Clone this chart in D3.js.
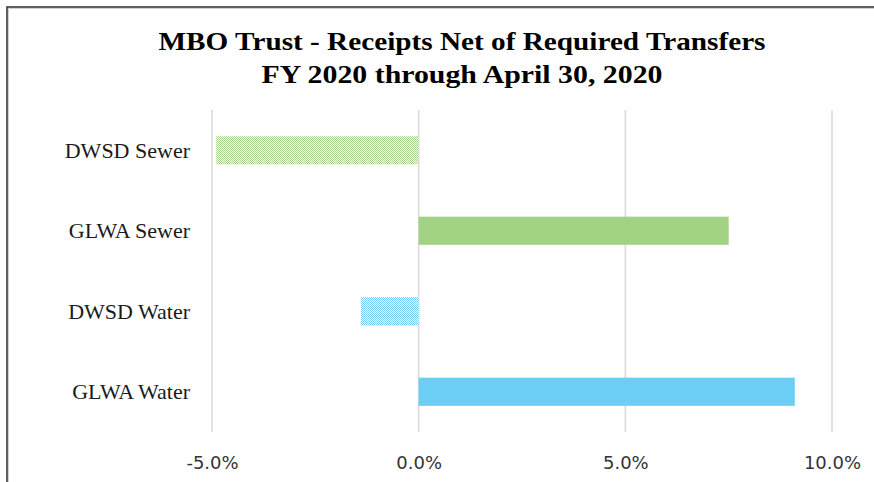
<!DOCTYPE html>
<html>
<head>
<meta charset="utf-8">
<script src="https://cdn.jsdelivr.net/npm/d3@7"></script>
<style>
  html, body { margin: 0; padding: 0; background: #fff; }
  svg { display: block; }
</style>
</head>
<body>
<div id="chart"></div>
<script>
  // ---------- data ----------
  const categories = ["DWSD Sewer", "GLWA Sewer", "DWSD Water", "GLWA Water"];
  const values = [-0.049, 0.075, -0.014, 0.091];
  const barFills = ["url(#hatchGreen)", "#a2d283", "url(#hatchBlue)", "#6dcef5"];
  const tickValues = [-0.05, 0, 0.05, 0.1];
  const titleLines = ["MBO Trust - Receipts Net of Required Transfers", "FY 2020 through April 30, 2020"];

  const W = 874, H = 482;
  const plot = { left: 212, right: 832, top: 110, bottom: 432 };

  const svg = d3.select("#chart").append("svg")
    .attr("width", W).attr("height", H);

  // patterns for the two hatched bars
  const defs = svg.append("defs");
  function hatch(id, color) {
    const p = defs.append("pattern")
      .attr("id", id).attr("width", 2).attr("height", 2)
      .attr("patternUnits", "userSpaceOnUse");
    p.append("rect").attr("width", 2).attr("height", 2).attr("fill", "#fff");
    p.append("rect").attr("x", 0).attr("y", 0).attr("width", 1).attr("height", 1).attr("fill", color);
    p.append("rect").attr("x", 1).attr("y", 1).attr("width", 1).attr("height", 1).attr("fill", color);
  }
  hatch("hatchGreen", "#a9d18e");
  hatch("hatchBlue", "#72cdf4");

  // frame
  svg.append("rect")
    .attr("x", 8.5).attr("y", 8.5).attr("width", W + 20).attr("height", H + 20)
    .attr("fill", "none").attr("stroke", "#d0d0d0").attr("stroke-width", 1);
  svg.append("rect")
    .attr("x", 7).attr("y", 7).attr("width", W + 20).attr("height", H + 20)
    .attr("fill", "none").attr("stroke", "#3a3a3a").attr("stroke-width", 1.6);

  // ---------- scales ----------
  const x = d3.scaleLinear().domain([-0.05, 0.1]).range([plot.left, plot.right]);
  const y = d3.scaleBand().domain(categories)
    .range([plot.top, plot.bottom]).paddingInner(0.65).paddingOuter(0.325);

  // gridlines
  svg.append("g")
    .selectAll("line")
    .data(tickValues)
    .join("line")
    .attr("x1", d => x(d)).attr("x2", d => x(d))
    .attr("y1", plot.top).attr("y2", plot.bottom)
    .attr("stroke", "#d9d9d9").attr("stroke-width", 1.5);

  // bars
  svg.append("g")
    .selectAll("rect")
    .data(categories)
    .join("rect")
    .attr("x", (d, i) => x(Math.min(0, values[i])))
    .attr("width", (d, i) => Math.abs(x(values[i]) - x(0)))
    .attr("y", d => y(d))
    .attr("height", y.bandwidth())
    .attr("fill", (d, i) => barFills[i]);

  // x axis labels
  const pct = d3.format(".1%");
  const xAxis = d3.axisBottom(x).tickValues(tickValues)
    .tickFormat(d => pct(d).replace("\u2212", "-")).tickSize(0).tickPadding(24);
  const xg = svg.append("g").attr("transform", `translate(0,${plot.bottom})`).call(xAxis);
  xg.select(".domain").remove();
  xg.selectAll("text")
    .style("font-family", "'DejaVu Sans', sans-serif")
    .style("font-size", "18px")
    .attr("fill", "#333");

  // category labels
  svg.append("g")
    .selectAll("text")
    .data(categories)
    .join("text")
    .attr("x", 190)
    .attr("y", d => y(d) + y.bandwidth() / 2)
    .attr("dy", "0.35em")
    .attr("text-anchor", "end")
    .style("font-family", "'Liberation Serif', serif")
    .style("font-size", "22px")
    .attr("fill", "#1a1a1a")
    .text(d => d);

  // title
  const titleWidths = [607, 401];
  svg.append("g")
    .selectAll("text")
    .data(titleLines)
    .join("text")
    .attr("x", 462)
    .attr("y", (d, i) => 50 + i * 33)
    .attr("text-anchor", "middle")
    .attr("textLength", (d, i) => titleWidths[i])
    .attr("lengthAdjust", "spacingAndGlyphs")
    .style("font-family", "'Liberation Serif', serif")
    .style("font-weight", "bold")
    .style("font-size", "25px")
    .attr("fill", "#000")
    .text(d => d);
</script>
</body>
</html>
